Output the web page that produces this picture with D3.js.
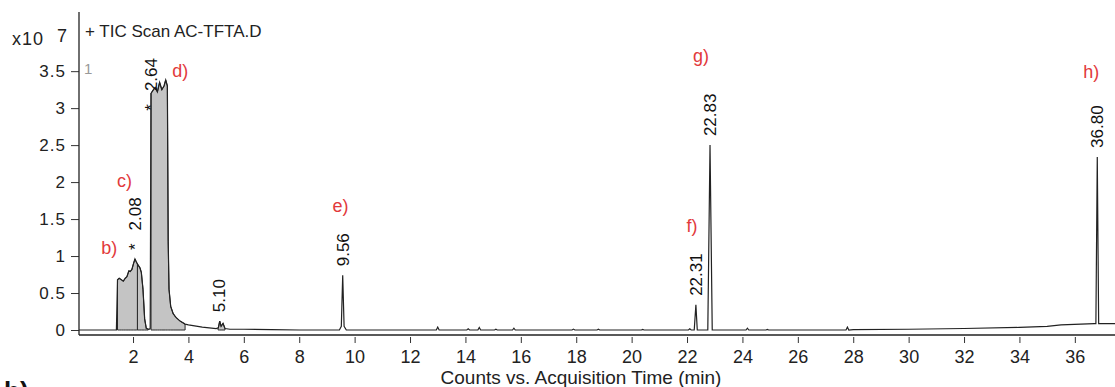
<!DOCTYPE html>
<html>
<head>
<meta charset="utf-8">
<script src="https://cdn.jsdelivr.net/npm/d3@7"></script>
<style>
  body { margin: 0; background: #fff; }
  svg text { font-family: "Liberation Sans", Arial, sans-serif; }
</style>
</head>
<body>
<div id="chart"></div>
<script>
// retention time (min) and counts (x10^7)
var times = [0.05, 1.40, 1.44, 1.50, 1.58, 1.65, 1.72, 1.78, 1.85, 1.90, 1.96, 2.02, 2.07, 2.12, 2.18, 2.25, 2.30, 2.36, 2.42, 2.48, 2.58,
  2.62, 2.65, 2.72, 2.80, 2.88, 2.96, 3.04, 3.12, 3.18, 3.24, 3.27, 3.30, 3.36, 3.45, 3.55, 3.70, 3.88, 4.00, 4.50, 5.00,
  5.08, 5.13, 5.18, 5.25, 5.32, 5.50, 6.00, 7.00, 8.00, 9.45, 9.52, 9.57, 9.62, 9.70,
  12.95, 13.00, 13.05, 14.05, 14.10, 14.15, 14.45, 14.50, 14.55, 15.05, 15.10, 15.15, 15.70, 15.75, 15.80,
  17.85, 17.90, 17.95, 18.75, 18.80, 18.85, 20.35, 20.40, 20.45, 22.05, 22.10, 22.15,
  22.26, 22.32, 22.37, 22.75, 22.83, 22.91, 24.13, 24.18, 24.23, 24.85, 24.90, 24.95, 27.74, 27.79, 27.84,
  28.00, 30.00, 32.00, 34.00, 35.00, 35.50, 36.70, 36.76, 36.81, 36.86, 37.50];
var counts = [0.00, 0.00, 0.68, 0.70, 0.68, 0.66, 0.70, 0.72, 0.80, 0.79, 0.82, 0.90, 0.96, 0.92, 0.88, 0.84, 0.78, 0.55, 0.15, 0.02, 0.01,
  0.02, 3.20, 3.24, 3.28, 3.22, 3.35, 3.25, 3.30, 3.38, 3.30, 1.20, 0.55, 0.32, 0.22, 0.17, 0.12, 0.08, 0.07, 0.04, 0.02,
  0.03, 0.12, 0.05, 0.09, 0.02, 0.01, 0.01, 0.005, 0.00, 0.00, 0.05, 0.74, 0.05, 0.00,
  0.00, 0.04, 0.00, 0.00, 0.015, 0.00, 0.00, 0.035, 0.00, 0.00, 0.01, 0.00, 0.00, 0.025, 0.00,
  0.00, 0.012, 0.00, 0.00, 0.01, 0.00, 0.00, 0.008, 0.00, 0.00, 0.015, 0.00,
  0.00, 0.34, 0.00, 0.00, 2.50, 0.00, 0.00, 0.025, 0.00, 0.00, 0.008, 0.00, 0.00, 0.04, 0.00,
  0.005, 0.01, 0.02, 0.035, 0.05, 0.07, 0.085, 0.085, 2.34, 0.085, 0.085];

// integrated (shaded) regions, start/end in min
var regionStart = [1.44, 2.16, 2.65, 5.07];
var regionEnd = [2.16, 2.55, 3.88, 5.32];

// labelled peaks
var peakTimes = [2.08, 2.64, 5.10, 9.56, 22.31, 22.83, 36.80];
var peakApex = [0.96, 3.38, 0.12, 0.74, 0.34, 2.50, 2.34];
var peakStar = [true, true, false, false, false, false, false];

// red compound letters, anchored at (time, counts)
var letters = ["b)", "c)", "d)", "e)", "f)", "g)", "h)"];
var letterTimes = [0.85, 1.42, 3.42, 9.20, 21.98, 22.22, 36.30];
var letterCounts = [1.03, 1.93, 3.42, 1.59, 1.32, 3.62, 3.41];

var xTicks = d3.range(2, 37, 2);
var yTicks = [0, 0.5, 1, 1.5, 2, 2.5, 3, 3.5];

var fullWidth = 1115, fullHeight = 387;
var plotLeft = 79, plotTop = 12, zeroY = 330, axisY = 335;

var svg = d3.select('#chart').append('svg')
  .attr('width', fullWidth)
  .attr('height', fullHeight);

var x = d3.scaleLinear().domain([0.05, 37.45]).range([plotLeft, fullWidth]);
var y = d3.scaleLinear().domain([0, 4.3]).range([zeroY, plotTop]);

var trace = times.map(function(t, i) { return {t: t, v: counts[i]}; });

function valueAt(t) {
  for (var i = 1; i < trace.length; i++) {
    if (trace[i].t >= t) {
      var a = trace[i - 1], b = trace[i];
      return a.v + (b.v - a.v) * (t - a.t) / (b.t - a.t);
    }
  }
  return trace[trace.length - 1].v;
}

// shaded areas
var area = d3.area()
  .x(function(d) { return x(d.t); })
  .y0(y(0))
  .y1(function(d) { return y(d.v); });

regionStart.forEach(function(s, i) {
  var e = regionEnd[i];
  var pts = [{t: s, v: valueAt(s)}]
    .concat(trace.filter(function(d) { return d.t > s && d.t < e; }))
    .concat([{t: e, v: valueAt(e)}]);
  svg.append('path')
    .datum(pts)
    .attr('d', function(d) { return area(d) + 'Z'; })
    .attr('fill', '#c4c4c4')
    .attr('stroke', '#2a2a2a')
    .attr('stroke-width', 1);
});

// the trace
var line = d3.line()
  .x(function(d) { return x(d.t); })
  .y(function(d) { return y(d.v); });

svg.append('path')
  .datum(trace)
  .attr('d', line)
  .attr('fill', 'none')
  .attr('stroke', '#222')
  .attr('stroke-width', 1.2);

// axes
var xAxis = d3.axisBottom(x).tickValues(xTicks).tickSize(6).tickPadding(7);
var yAxis = d3.axisLeft(y).tickValues(yTicks).tickSize(8).tickPadding(5)
  .tickFormat(d3.format('~g'));

var xg = svg.append('g')
  .attr('transform', 'translate(0,' + (axisY + 2) + ')')
  .call(xAxis);
xg.select('.domain').remove();
xg.selectAll('text').style('font-size', '18px').attr('fill', '#222');
xg.selectAll('line').attr('stroke', '#333');

var yg = svg.append('g')
  .attr('transform', 'translate(' + plotLeft + ',0)')
  .call(yAxis);
yg.select('.domain').remove();
yg.selectAll('text').style('font-size', '17px').style('letter-spacing', '1px').attr('fill', '#222');
yg.selectAll('line').attr('stroke', '#333');

svg.append('line')
  .attr('x1', plotLeft).attr('x2', plotLeft)
  .attr('y1', plotTop).attr('y2', axisY)
  .attr('stroke', '#222').attr('stroke-width', 1.3);
svg.append('line')
  .attr('x1', plotLeft).attr('x2', fullWidth)
  .attr('y1', axisY).attr('y2', axisY)
  .attr('stroke', '#222').attr('stroke-width', 1.3);

// peak retention time labels, rotated
var labelTop = 58;
peakTimes.forEach(function(t, i) {
  var txt = t.toFixed(2);
  var lab = svg.append('text')
    .attr('dy', '0.36em')
    .style('font-size', '17px')
    .attr('fill', '#111');
  if (peakStar[i]) {
    lab.append('tspan').text('*');
    lab.append('tspan').attr('dx', 13).text(txt);
  } else {
    lab.text(txt);
  }
  var len = lab.node().getBBox().width;
  var y0 = y(peakApex[i]) - 9;
  if (y0 - len < labelTop) y0 = labelTop + len;
  lab.attr('transform', 'translate(' + x(t) + ',' + y0 + ') rotate(-90)');
});

// red letters
letters.forEach(function(l, i) {
  svg.append('text')
    .attr('x', x(letterTimes[i]))
    .attr('y', y(letterCounts[i]))
    .style('font-size', '18px')
    .attr('fill', '#e2393b')
    .text(l);
});

// titles
svg.append('text')
  .attr('x', 85).attr('y', 37)
  .style('font-size', '17px')
  .attr('fill', '#222')
  .text('+ TIC Scan AC-TFTA.D');

svg.append('text')
  .attr('x', 12).attr('y', 45)
  .style('font-size', '18px')
  .style('letter-spacing', '1px')
  .attr('fill', '#222')
  .text('x10');
svg.append('text')
  .attr('x', 57).attr('y', 42)
  .style('font-size', '18px')
  .attr('fill', '#222')
  .text('7');

svg.append('text')
  .attr('x', 84).attr('y', 74)
  .style('font-size', '15px')
  .attr('fill', '#999')
  .text('1');

svg.append('text')
  .attr('x', 581).attr('y', 384)
  .attr('text-anchor', 'middle')
  .style('font-size', '19px')
  .attr('fill', '#222')
  .text('Counts vs. Acquisition Time (min)');

// cut-off panel letter at the bottom edge
svg.append('text')
  .attr('x', 4).attr('y', 400)
  .style('font-size', '26px')
  .style('font-weight', 'bold')
  .attr('fill', '#111')
  .text('b)');
</script>
</body>
</html>
